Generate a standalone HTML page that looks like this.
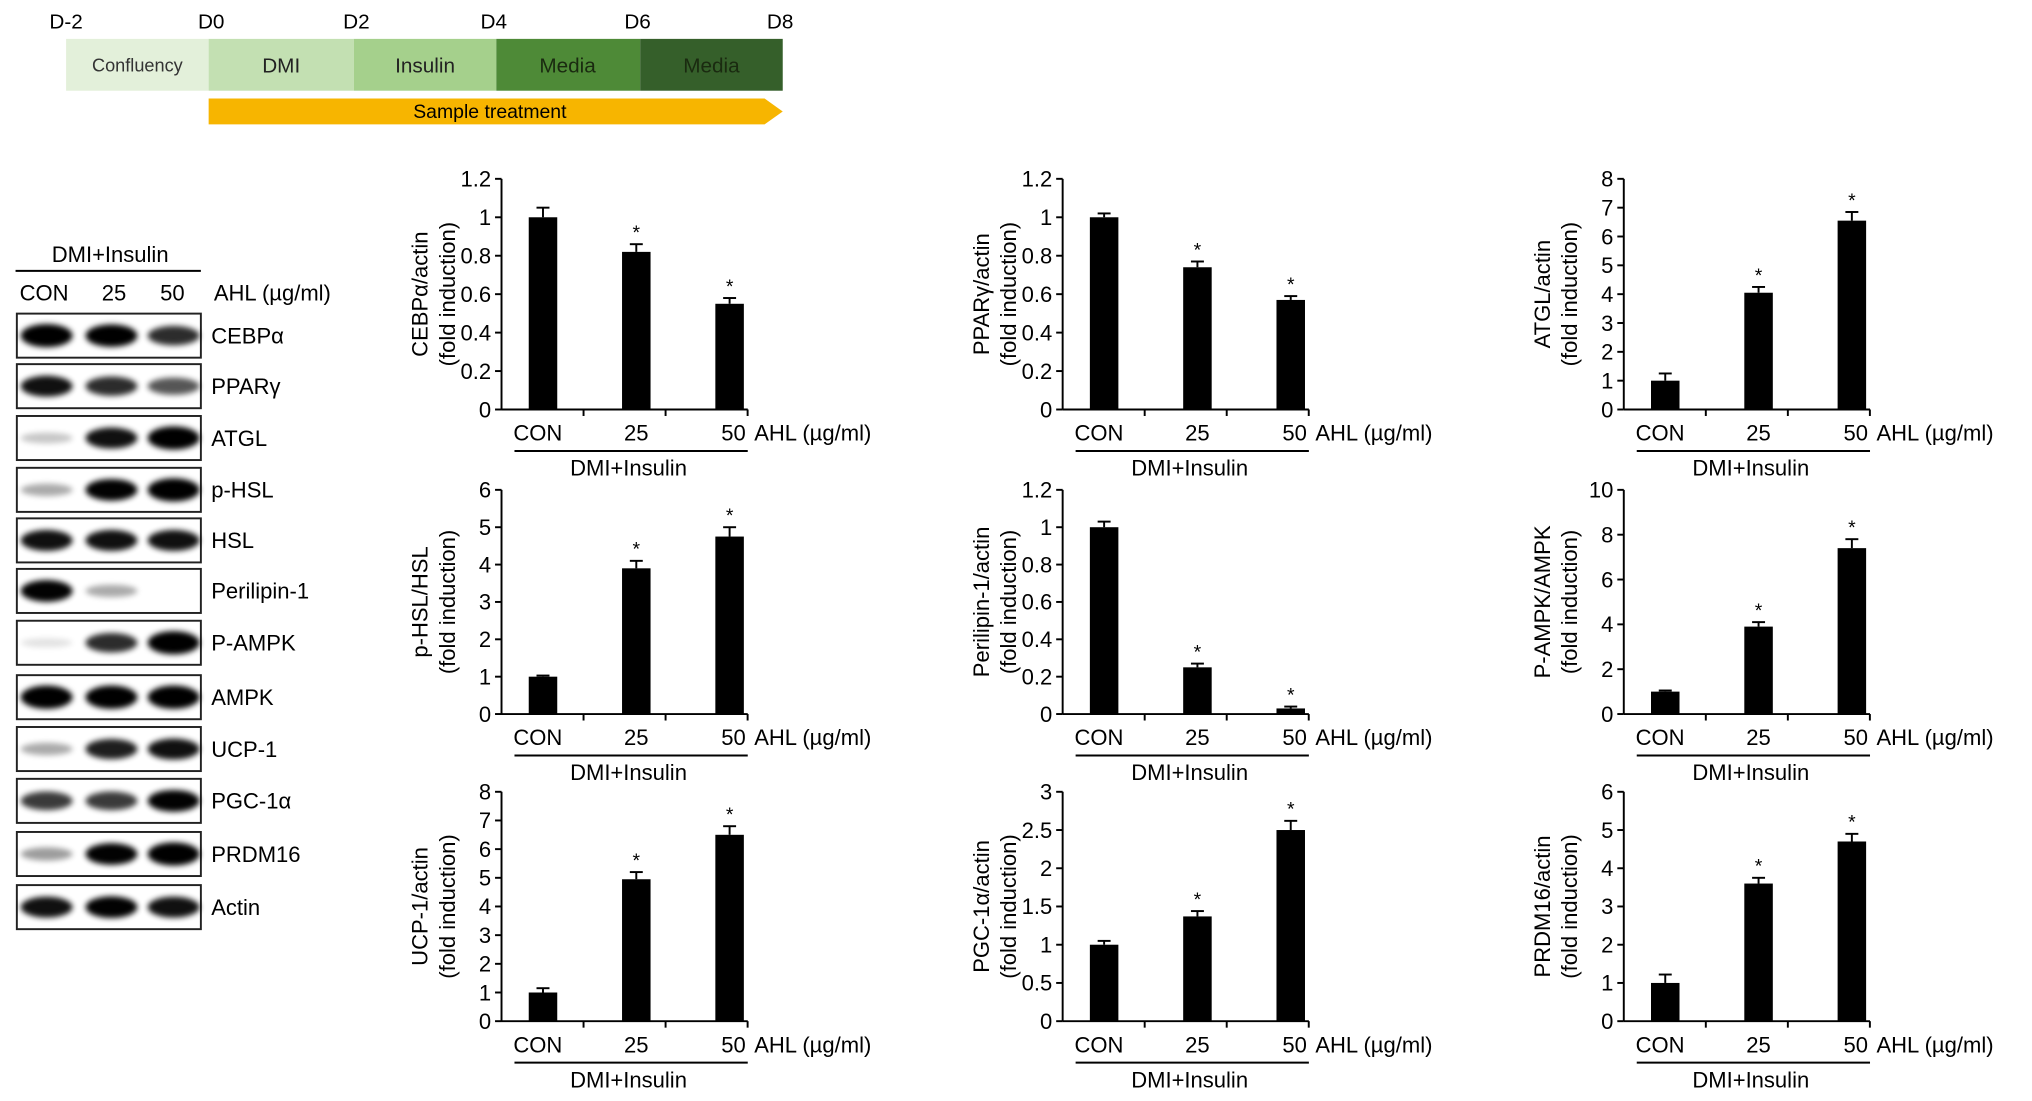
<!DOCTYPE html>
<html><head><meta charset="utf-8"><style>body{margin:0;background:#fff}svg{display:block;font-family:"Liberation Sans",sans-serif}</style></head>
<body>
<svg id="fig" width="2032" height="1101" viewBox="0 0 1568 849.6" preserveAspectRatio="none">
<defs><filter id="bl" x="-30%" y="-100%" width="160%" height="300%"><feGaussianBlur stdDeviation="2.2"/></filter></defs>
<g font-size="16">
<rect x="51" y="30" width="110" height="40" fill="#e3f0da"/>
<rect x="161" y="30" width="112" height="40" fill="#c3e0b2"/>
<rect x="273" y="30" width="110" height="40" fill="#a5d08c"/>
<rect x="383" y="30" width="111" height="40" fill="#4e8a37"/>
<rect x="494" y="30" width="110" height="40" fill="#355f2a"/>
<text x="106" y="55" text-anchor="middle" font-size="14" fill="#333">Confluency</text>
<text x="217" y="56" text-anchor="middle" fill="#222">DMI</text>
<text x="328" y="56" text-anchor="middle" fill="#222">Insulin</text>
<text x="438" y="56" text-anchor="middle" fill="#1a2a10">Media</text>
<text x="549" y="56" text-anchor="middle" fill="#1a2a10">Media</text>
<text x="51" y="22" text-anchor="middle">D-2</text><text x="163" y="22" text-anchor="middle">D0</text><text x="275" y="22" text-anchor="middle">D2</text><text x="381" y="22" text-anchor="middle">D4</text><text x="492" y="22" text-anchor="middle">D6</text><text x="602" y="22" text-anchor="middle">D8</text>
<polygon points="161,76 590,76 604,86 590,96 161,96" fill="#f7b500"/>
<text x="378" y="91" text-anchor="middle" font-size="15">Sample treatment</text>
</g>
<g id="blots" font-size="17"></g>
<g id="charts"></g>
</svg>
<script>
const NS='http://www.w3.org/2000/svg';
function mk(p,t,a,txt){const e=document.createElementNS(NS,t);for(const k in a)e.setAttribute(k,a[k]);if(txt!==undefined)e.textContent=txt;p.appendChild(e);return e;}
// blots
const blotNames=['CEBPα','PPARγ','ATGL','p-HSL','HSL','Perilipin-1','P-AMPK','AMPK','UCP-1','PGC-1α','PRDM16','Actin'];
const blotCenters=[259,298,338,378,417,456,496,538,578,618,659,700];
const blotInt=[[1,.95,.75],[.85,.75,.6],[.2,.85,1],[.3,.9,1],[.85,.85,.85],[.9,.3,0],[.1,.75,1],[1,1,1],[.3,.8,.85],[.7,.7,.9],[.35,.9,1],[.85,.9,.85]];
const B=document.getElementById('blots');
mk(B,'text',{x:85,y:202,'text-anchor':'middle'},'DMI+Insulin');
mk(B,'line',{x1:12,x2:155,y1:209,y2:209,stroke:'#000','stroke-width':1.5});
[['CON',34],['25',88],['50',133]].forEach(([t,x])=>mk(B,'text',{x:x,y:232,'text-anchor':'middle'},t));
mk(B,'text',{x:165,y:232},'AHL (µg/ml)');
blotNames.forEach((n,i)=>{const cy=blotCenters[i];
 const g=mk(B,'g',{});
 
 
 mk(g,'rect',{x:13,y:cy-17,width:142,height:34,fill:'#fff',stroke:'#222','stroke-width':1.5});
 [36,86,134].forEach((x,j)=>{const v=blotInt[i][j];if(v>0.02)mk(g,'ellipse',{cx:x,cy:cy,rx:20,ry:3+6*v,fill:'#000',opacity:Math.min(1,v*1.1),filter:'url(#bl)'});});
 mk(g,'text',{x:163,y:cy+6},n);
});
// charts data
const labels=['CEBPα/actin','PPARγ/actin','ATGL/actin','p-HSL/HSL','Perilipin-1/actin','P-AMPK/AMPK','UCP-1/actin','PGC-1α/actin','PRDM16/actin'];
const yMax=[1.2,1.2,8,6,1.2,10,8,3,6];
const yStep=[0.2,0.2,1,1,0.2,2,1,0.5,1];
const categories=['CON','25','50'];
const means=[[1.0,0.82,0.55],[1.0,0.74,0.57],[1.0,4.05,6.55],[1.0,3.9,4.75],[1.0,0.25,0.03],[1.0,3.9,7.4],[1.0,4.95,6.5],[1.0,1.37,2.5],[1.0,3.6,4.7]];
const errs=[[0.05,0.04,0.03],[0.02,0.03,0.02],[0.25,0.2,0.3],[0.03,0.2,0.25],[0.03,0.02,0.01],[0.05,0.2,0.4],[0.15,0.25,0.3],[0.05,0.07,0.12],[0.22,0.15,0.2]];
const sig=[[0,1,1],[0,1,1],[0,1,1],[0,1,1],[0,1,1],[0,1,1],[0,1,1],[0,1,1],[0,1,1]];
const colX=[387,820,1253];const rowY=[[138,316],[378,551],[611,788]];
const C=document.getElementById('charts');
labels.forEach((lab,k)=>{
 const ax=colX[k%3],[top,bot]=rowY[Math.floor(k/3)];
 const g=mk(C,'g',{'font-size':17});
 
 
 const y=v=>bot-(v/yMax[k])*(bot-top);
 const bx=i=>ax+32+i*72;
 mk(g,'line',{x1:ax,x2:ax,y1:top,y2:bot,stroke:'#000','stroke-width':1.5});
 mk(g,'line',{x1:ax,x2:ax+190,y1:bot,y2:bot,stroke:'#000','stroke-width':1.5});
 [1,2,3].forEach(i=>mk(g,'line',{x1:ax+i*63.3,x2:ax+i*63.3,y1:bot,y2:bot+5,stroke:'#000','stroke-width':1.5}));
 const n=Math.round(yMax[k]/yStep[k]);
 for(let i=0;i<=n;i++){const v=+(i*yStep[k]).toFixed(2);
  mk(g,'line',{x1:ax-5,x2:ax,y1:y(v),y2:y(v),stroke:'#000','stroke-width':1.5});
  mk(g,'text',{x:ax-8,y:y(v)+6,'text-anchor':'end'},String(v));}
 const yl=mk(g,'text',{transform:`translate(${ax-57},${(top+bot)/2}) rotate(-90)`,'text-anchor':'middle'},lab);
 
 mk(g,'text',{transform:`translate(${ax-36},${(top+bot)/2}) rotate(-90)`,'text-anchor':'middle'},'(fold induction)');
 categories.forEach((c,i)=>{
  const b=mk(g,'rect',{x:bx(i)-11,y:y(means[k][i]),width:22,height:bot-y(means[k][i]),fill:'#000'});
  
  const et=y(means[k][i]+errs[k][i]);
  mk(g,'line',{x1:bx(i),x2:bx(i),y1:et,y2:y(means[k][i]),stroke:'#000','stroke-width':1.5});
  mk(g,'line',{x1:bx(i)-5,x2:bx(i)+5,y1:et,y2:et,stroke:'#000','stroke-width':1.5});
  if(sig[k][i])mk(g,'text',{x:bx(i),y:et-4,'text-anchor':'middle','font-size':15},'*');
  mk(g,'text',{x:bx(i)+(i==0?-4:i==2?3:0),y:bot+24,'text-anchor':'middle'},c);
 });
 mk(g,'text',{x:ax+195,y:bot+24},'AHL (µg/ml)');
 mk(g,'line',{x1:ax+10,x2:ax+190,y1:bot+32,y2:bot+32,stroke:'#000','stroke-width':1.5});
 mk(g,'text',{x:ax+98,y:bot+51,'text-anchor':'middle'},'DMI+Insulin');
});
</script>
</body></html>
